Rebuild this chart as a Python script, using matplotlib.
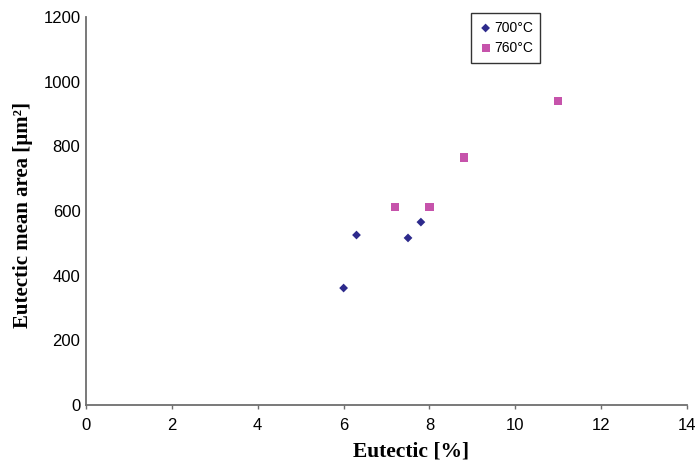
import matplotlib
matplotlib.use("Agg")
import matplotlib.pyplot as plt

# data
x_700 = [6.0, 6.3, 7.5, 7.8]
y_700 = [362, 526, 517, 566]
x_760 = [7.2, 8.0, 8.8, 11.0]
y_760 = [612, 612, 766, 941]

x_ticks = [0, 2, 4, 6, 8, 10, 12, 14]
y_ticks = [0, 200, 400, 600, 800, 1000, 1200]

fig = plt.figure(figsize=(6.99, 4.65), dpi=100, facecolor="white")
ax = fig.add_axes([0.123, 0.129, 0.86, 0.834])

ax.scatter(x_700, y_700, marker="D", s=20, c="#2d2a8c", edgecolors="none",
           label="700°C", zorder=3)
ax.scatter(x_760, y_760, marker="s", s=34, c="#c653ab", edgecolors="none",
           label="760°C", zorder=3)

ax.set_xlim(0, 14)
ax.set_ylim(0, 1200)
ax.set_xticks(x_ticks)
ax.set_yticks(y_ticks)

for side in ("top", "right"):
    ax.spines[side].set_visible(False)
for side in ("left", "bottom"):
    ax.spines[side].set_color("#6e6e6e")
    ax.spines[side].set_linewidth(1.3)

ax.tick_params(axis="x", direction="out", length=3, width=1, color="#6e6e6e",
               labelsize=12, pad=6)
ax.tick_params(axis="y", length=0, labelsize=12, pad=4)
for lab in ax.get_xticklabels() + ax.get_yticklabels():
    lab.set_family("Liberation Sans")

ax.set_xlabel("Eutectic [%]", family="Liberation Serif", fontweight="bold",
              fontsize=15.5)
ax.xaxis.set_label_coords(0.54, -0.095)
ax.set_ylabel("Eutectic mean area [µm²]", family="Liberation Serif",
              fontweight="bold", fontsize=15)
ax.yaxis.set_label_coords(-0.088, 0.49)

leg = ax.legend(loc="upper left", bbox_to_anchor=(471 / 699, 1 - 13 / 465),
                bbox_transform=fig.transFigure, frameon=True, fancybox=False,
                prop={"family": "Liberation Sans", "size": 10},
                handletextpad=0.1, handlelength=1.0, borderpad=0.55,
                labelspacing=0.45, borderaxespad=0)
leg.get_frame().set_edgecolor("black")
leg.get_frame().set_linewidth(1.0)

fig.savefig("out.png", dpi=100, facecolor="white")
